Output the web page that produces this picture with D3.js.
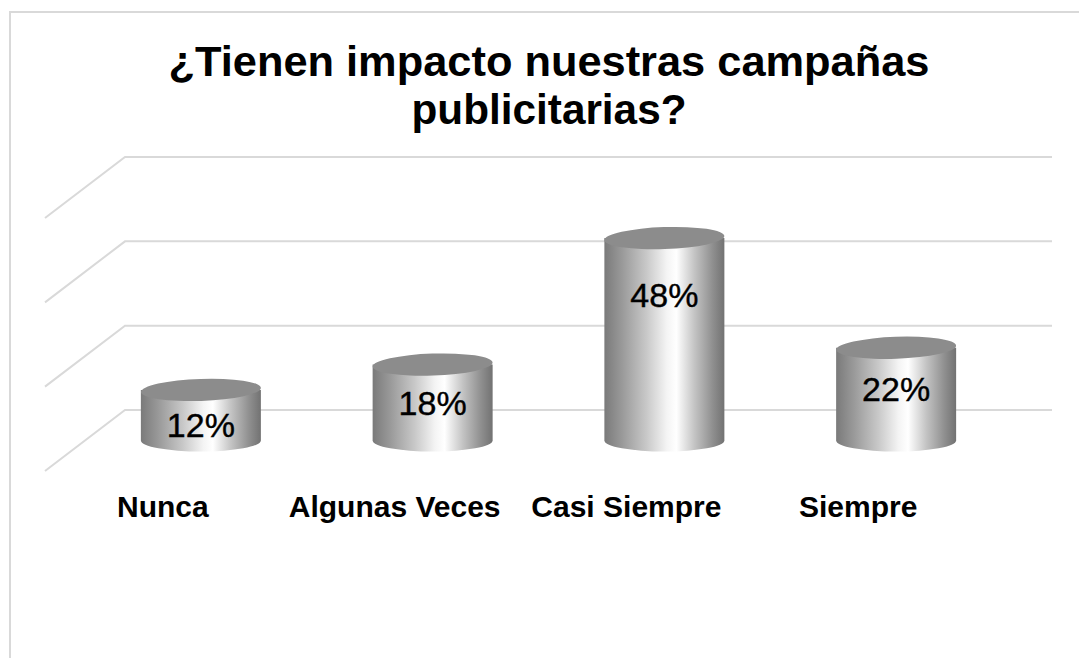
<!DOCTYPE html>
<html><head><meta charset="utf-8">
<script src="https://cdn.jsdelivr.net/npm/d3@7"></script>
<style>html,body{margin:0;padding:0;background:#fff;}svg{display:block;}</style>
</head><body>
<svg id="chart" width="1079" height="658"></svg>
<script>
const categories = ["Nunca", "Algunas Veces", "Casi Siempre", "Siempre"];
const values = [12, 18, 48, 22];
const valueLabels = ["12%", "18%", "48%", "22%"];
const gridTicks = [0, 20, 40, 60];
const titleLines = ["¿Tienen impacto nuestras campañas", "publicitarias?"];

const svg = d3.select("#chart");
const font = "'Liberation Sans', Arial, sans-serif";

// frame
svg.append("path").attr("d", "M10,658 L10,12 L1079,12")
  .attr("fill", "none").attr("stroke", "#d9d9d9").attr("stroke-width", 2);

// title
const title = svg.append("g").attr("font-family", font).attr("font-weight", "bold")
  .attr("font-size", 42).attr("text-anchor", "middle").attr("fill", "#000");
const titleW = [761, 275];
titleLines.forEach((t, i) => {
  title.append("text").attr("x", 549).attr("y", 76 + i * 48)
    .attr("textLength", titleW[i]).attr("lengthAdjust", "spacingAndGlyphs").text(t);
});

// 3D geometry: back wall plane, depth vector
const depthDx = -80, depthDy = 61;
const x = d3.scaleBand().domain(categories).range([125, 1052]);
const y = d3.scaleLinear().domain([0, 60]).range([410, 157]);

// gridlines
const grid = svg.append("g").attr("stroke", "#d9d9d9").attr("stroke-width", 2).attr("fill", "none");
gridTicks.forEach(t => {
  const yy = y(t);
  grid.append("path").attr("d", `M${125 + depthDx},${yy + depthDy} L125,${yy} L1052,${yy}`);
});

// gradient
const defs = svg.append("defs");
const grad = defs.append("linearGradient").attr("id", "cyl").attr("x1", "0").attr("x2", "1").attr("y1", "0").attr("y2", "0");
[[0, "#7a7a7a"], [0.15, "#9a9a9a"], [0.35, "#c8c8c8"], [0.52, "#f4f4f4"], [0.6, "#ffffff"], [0.75, "#c4c4c4"], [0.9, "#909090"], [1, "#727272"]]
  .forEach(([o, c]) => grad.append("stop").attr("offset", o).attr("stop-color", c));

const rx = 60, ry = 11;
const bars = svg.append("g");
categories.forEach((c, i) => {
  const cx = x(c) + x.bandwidth() / 2 + depthDx / 2;
  const yb = y(0) + depthDy / 2;
  const yt = y(values[i]) + depthDy / 2;
  bars.append("path")
    .attr("d", `M${cx - rx},${yt} L${cx - rx},${yb} A${rx},${ry} 0 0 0 ${cx + rx},${yb} L${cx + rx},${yt} Z`)
    .attr("fill", "url(#cyl)");
  bars.append("ellipse").attr("cx", cx).attr("cy", yt).attr("rx", rx).attr("ry", ry)
    .attr("fill", "#8c8c8c")
    .attr("transform", `rotate(-2,${cx},${yt})`);
  bars.append("text").attr("x", cx).attr("y", yt + 40 + 0.6 * values[i])
    .attr("text-anchor", "middle").attr("font-family", font).attr("font-size", 34)
    .attr("stroke", "#000").attr("stroke-width", 0.4)
    .attr("fill", "#000").text(valueLabels[i]);
});

// category labels (front edge)
const labels = svg.append("g").attr("font-family", font).attr("font-weight", "bold")
  .attr("font-size", 30).attr("text-anchor", "middle").attr("fill", "#000");
categories.forEach(c => {
  labels.append("text").attr("x", x(c) + x.bandwidth() / 2 + depthDx + 2).attr("y", 517).text(c);
});
</script>
</body></html>
